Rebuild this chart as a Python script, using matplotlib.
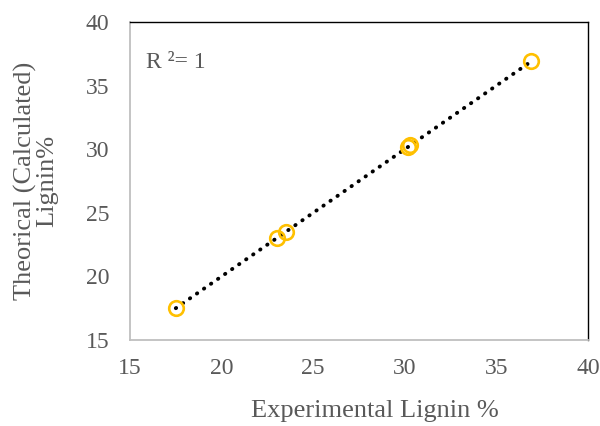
import matplotlib
matplotlib.use("Agg")
import matplotlib.pyplot as plt
import numpy as np

experimental = [17.5, 23.0, 23.5, 30.15, 30.3, 36.9]
theoretical = [17.5, 23.05, 23.5, 30.2, 30.3, 36.9]
trend_x = [17.5, 36.9]
x_ticks = [15, 20, 25, 30, 35, 40]
y_ticks = [15, 20, 25, 30, 35, 40]

plt.rcParams['font.family'] = ['Liberation Serif', 'DejaVu Serif']
fig = plt.figure(figsize=(6, 4.26), dpi=100)
ax = fig.add_axes([0.2167, 0.2019, 0.7633, 0.7465])

ax.plot(trend_x, trend_x, linestyle=(0, (0.1, 2.1)), color='black', linewidth=2.8,
        dash_capstyle='round', zorder=2)
ax.plot(experimental, theoretical, linestyle='none', marker='o', markersize=10.5,
        markerfacecolor='none', markeredgecolor='#FFC000', markeredgewidth=1.9, zorder=3)

ax.set_xlim(15, 40)
ax.set_ylim(15, 40)
ax.set_xticks(x_ticks)
ax.set_yticks(y_ticks)
ax.tick_params(length=0, labelsize=17, labelcolor='#595959')
ax.tick_params(axis='x', pad=13)
ax.tick_params(axis='y', pad=15)
for s in ['left', 'bottom']:
    ax.spines[s].set_color('#BFBFBF')
    ax.spines[s].set_linewidth(1.3)
for s in ['top', 'right']:
    ax.spines[s].set_color('black')
    ax.spines[s].set_linewidth(1.0)

ax.set_xlabel('Experimental Lignin %', fontsize=19, color='#595959')
ax.xaxis.set_label_coords(0.535, -0.19)
ax.set_ylabel('Theorical (Calculated)\nLignin%', fontsize=19, color='#595959',
              labelpad=20, linespacing=0.95)
ax.text(0.035, 0.855, 'R ²= 1', transform=ax.transAxes, fontsize=17, color='#595959')

fig.savefig('out.png', dpi=100)
